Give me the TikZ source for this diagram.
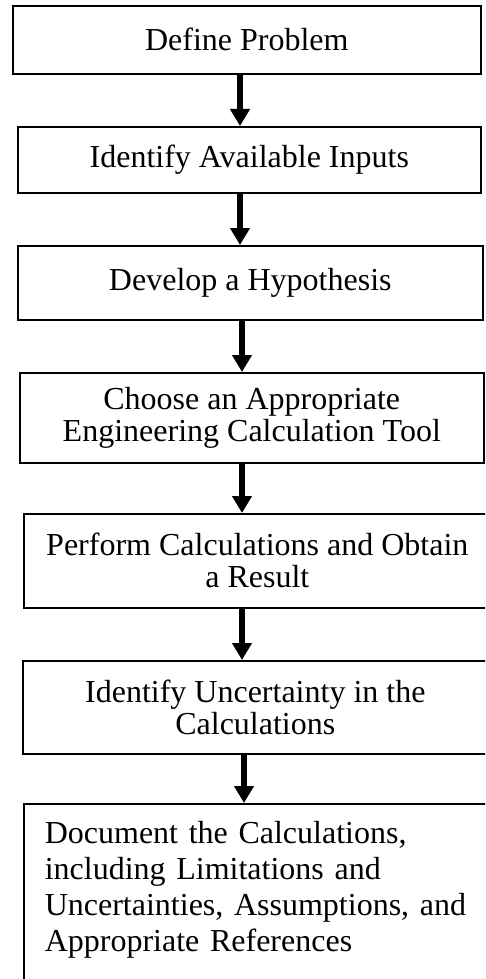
\documentclass[tikz,border=0pt]{standalone}
\usepackage{fontspec}
\setmainfont{Liberation Serif}
\usetikzlibrary{arrows.meta}

\begin{document}
\begin{tikzpicture}[
  x=1pt, y=-1pt,
  box/.style={rectangle, draw, line width=1.6pt, align=center, anchor=north west, inner sep=0pt, font=\fontsize{32}{32}\selectfont},
  arr/.style={-{Triangle[length=17pt,width=19pt]}, line width=6pt}
]
\useasboundingbox (0,0) rectangle (485,979);
\clip (0,0) rectangle (485,979);

\node[box, minimum width=468pt, minimum height=68pt] (define) at (12,5) {Define Problem};
\node[box, minimum width=463pt, minimum height=66pt] (inputs) at (17,126) {Identify Available Inputs};
\node[box, minimum width=465pt, minimum height=74pt] (hypo) at (17,245) {Develop a Hypothesis};
\node[box, minimum width=464pt, minimum height=90pt] (tool) at (19,372) {Choose an Appropriate\\Engineering Calculation Tool};
\node[box, minimum width=467pt, minimum height=94pt] (calc) at (23,513) {Perform Calculations and Obtain\\a Result};
\node[box, minimum width=465pt, minimum height=93pt] (uncert) at (22,660) {Identify Uncertainty in the\\Calculations};
\node[box, align=left, font=\fontsize{32}{36}\selectfont, text width=440pt, text depth=150pt, inner xsep=21pt, inner ysep=17pt] (docu) at (23,803)
  {Document the Calculations,\\including Limitations and\\Uncertainties, Assumptions, and\\Appropriate References};

\coordinate (axisa) at (240,0);
\coordinate (axisb) at (242,0);
\coordinate (axisc) at (244,0);
\draw[arr] (define.south -| axisa) -- (inputs.north -| axisa);
\draw[arr] (inputs.south -| axisa) -- (hypo.north -| axisa);
\draw[arr] (hypo.south -| axisb) -- (tool.north -| axisb);
\draw[arr] (tool.south -| axisb) -- (calc.north -| axisb);
\draw[arr] (calc.south -| axisb) -- (uncert.north -| axisb);
\draw[arr] (uncert.south -| axisc) -- (docu.north -| axisc);
\end{tikzpicture}
\end{document}
